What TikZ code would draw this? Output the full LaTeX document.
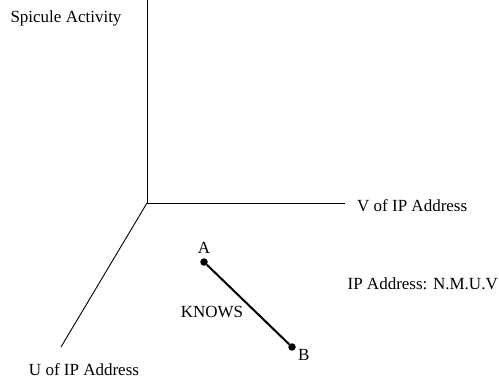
\documentclass[tikz,border=0pt]{standalone}
\usepackage{fontspec}
\setmainfont{Liberation Serif}
\usetikzlibrary{positioning}

\tikzset{
  axis/.style={line width=0.9pt},
  lbl/.style={inner sep=0pt, font=\fontsize{17}{20}\selectfont},
  dot/.style={circle, fill=black, inner sep=0pt, minimum size=7.5pt}
}

\begin{document}
\begin{tikzpicture}[x=1pt, y=-1pt]
        \useasboundingbox (0,0) rectangle (499,383);

        % Draw the axes
        \coordinate (origin) at (147,203);
        \coordinate (top_end) at (147,0);
        \coordinate (v_end) at (345,203);
        \coordinate (u_end) at (61,347);
        \draw[axis] (origin) -- (top_end);
        \draw[axis] (origin) -- (v_end);
        \draw[axis] (origin) -- (u_end);

        % Axis labels
        \node[lbl] (spicule) at (66,18) {Spicule Activity};
        \node[lbl, anchor=west] (v_label) at (357,206) {V of IP Address};
        \node[lbl] (u_label) at (84,370) {U of IP Address};
        \node[lbl, anchor=east] (ip_note) at (498,284) {IP Address: N.M.U.V};

        % The two points
        \node[dot] (a) at (204,262) {};
        \node[dot] (b) at (292,347) {};
        \node[lbl, above=4pt of a] (a_label) {A};
        \node[lbl, anchor=west] (b_label) at (298,355) {B};

        % Relation
        \draw[line width=2pt] (a) -- (b);
        \node[lbl] (knows) at (212,312) {KNOWS};
    \end{tikzpicture}
\end{document}
